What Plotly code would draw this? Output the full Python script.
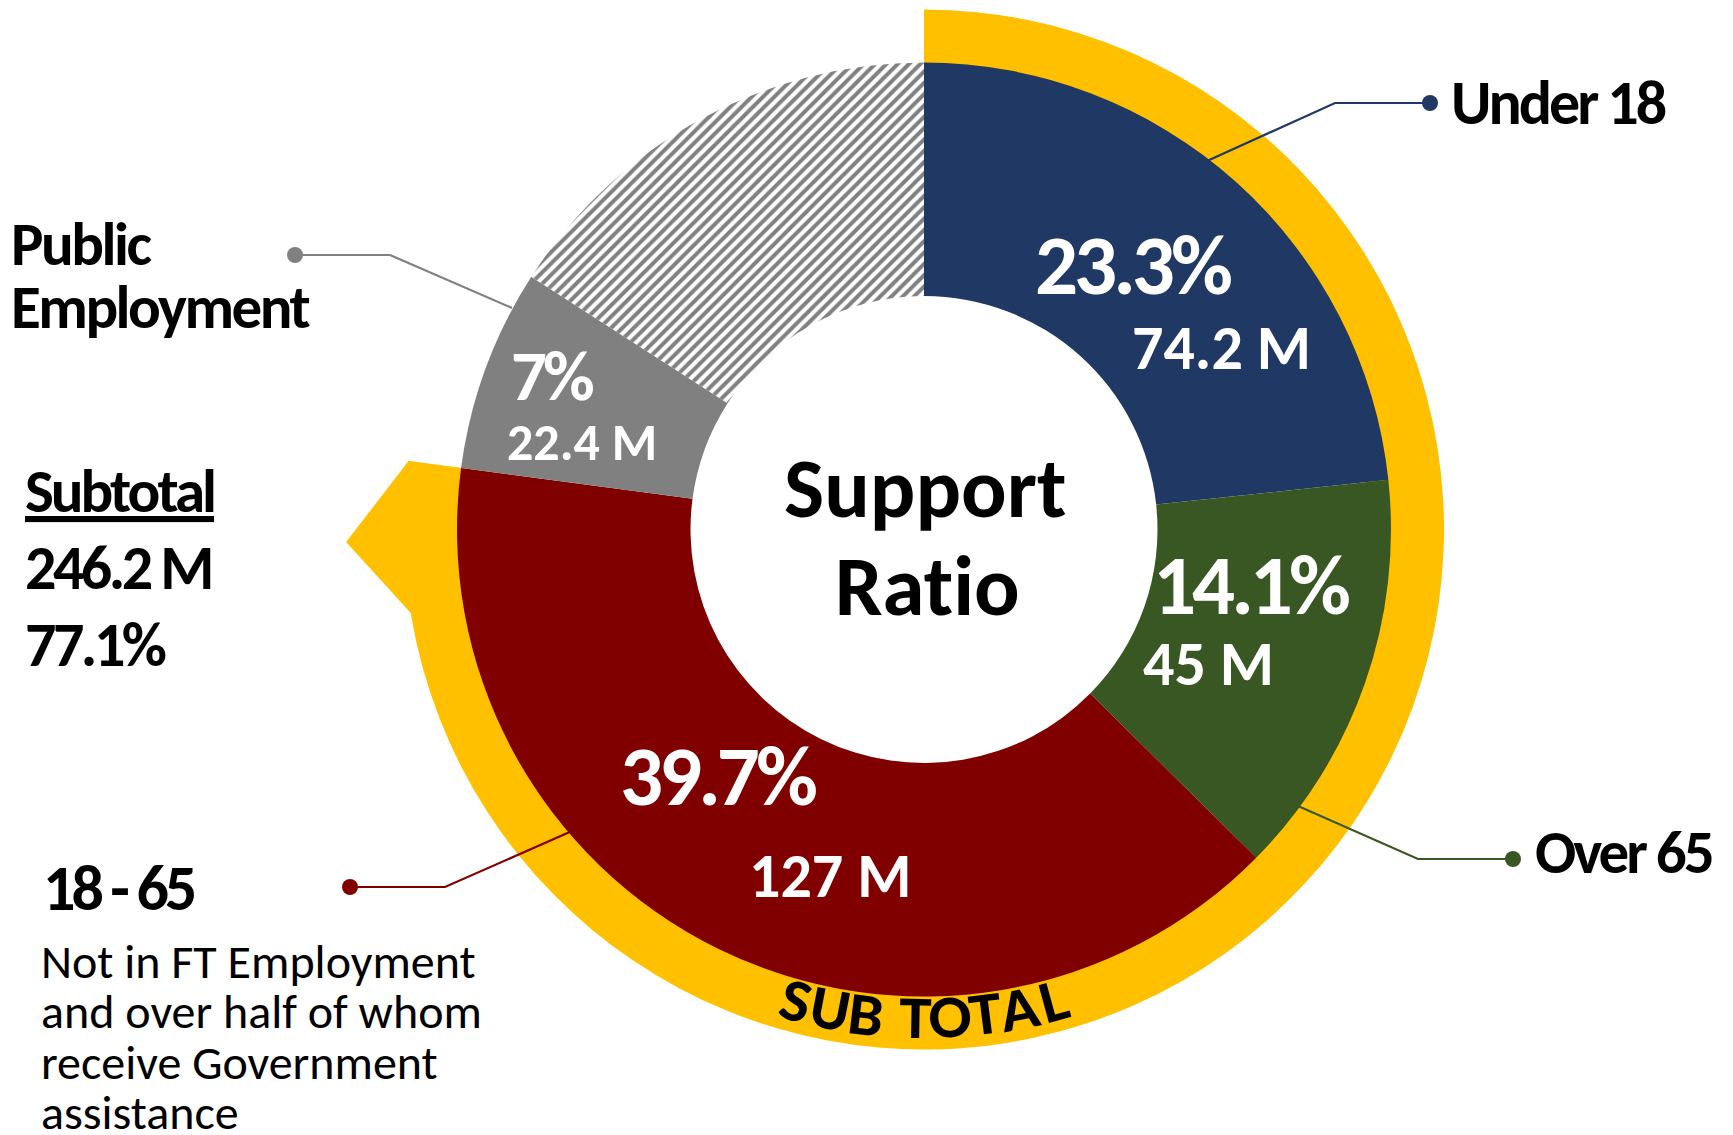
import json
import math
import plotly.graph_objects as go

# ---------------- data ----------------
segments = ["Under 18", "Over 65", "18 - 65", "Public Employment", "Other"]
shares = [23.3, 14.1, 39.7, 7.0, 15.9]          # % of population
share_text = ["23.3%", "14.1%", "39.7%", "7%", ""]
value_text = ["74.2 M", "45 M", "127 M", "22.4 M", ""]
subtotal_share = 77.1                              # Under 18 + Over 65 + 18-65
subtotal_rest = 22.9
subtotal_value_text = "246.2 M"
subtotal_share_text = "77.1%"
center_title = ["Support", "Ratio"]
adult_note = ["Not in FT Employment", "and over half of whom", "receive Government", "assistance"]
ring_label = "SUB TOTAL"

# ---------------- styling / layout ----------------
W, H = 1733, 1135
CX, CY = 924, 529.5          # donut centre (px)
R_PIE, R_RING = 467, 520
NAVY, GREEN, RED, GREY, YELLOW = "#203864", "#385723", "#800000", "#808080", "#FFC000"
colors = [NAVY, GREEN, RED, GREY, "#FFFFFF"]
FONT = "Carlito, Calibri, Lato, sans-serif"


def fx(x):
    return x / W


def fy(y):
    return 1 - y / H


def polar(r, deg):
    a = math.radians(deg)
    return CX + r * math.sin(a), CY - r * math.cos(a)


fig = go.Figure()

# outer yellow "sub total" ring
fig.add_trace(go.Pie(
    values=[subtotal_share, subtotal_rest], labels=["Sub total", ""],
    sort=False, direction="clockwise", rotation=0, hole=0.86,
    marker=dict(colors=[YELLOW, "rgba(0,0,0,0)"], line=dict(width=0)),
    textinfo="none", hoverinfo="skip", showlegend=False,
    domain=dict(x=[fx(CX - R_RING), fx(CX + R_RING)], y=[fy(CY + R_RING), fy(CY - R_RING)]),
))

# main donut
fig.add_trace(go.Pie(
    values=shares, labels=segments,
    sort=False, direction="clockwise", rotation=0, hole=0.5,
    marker=dict(colors=colors, line=dict(width=0),
                pattern=dict(shape=["", "", "", "", "/"], fgcolor=GREY,
                             bgcolor=colors, size=8, solidity=0.5)),
    textinfo="none", hoverinfo="label+value", showlegend=False,
    domain=dict(x=[fx(CX - R_PIE), fx(CX + R_PIE)], y=[fy(CY + R_PIE), fy(CY - R_PIE)]),
))

shapes = []

# arrow head at the end of the yellow ring
end_deg = subtotal_share / 100 * 360
p1 = polar(440, end_deg)
p2 = polar(R_RING, end_deg)
p3 = polar(578, end_deg - 8.8)
p4 = polar(R_RING, end_deg - 16.8)
p5 = polar(440, end_deg - 16.8)
path = "M " + " L ".join(f"{fx(x):.5f},{fy(y):.5f}" for x, y in [p1, p2, p3, p4, p5]) + " Z"
shapes.append(dict(type="path", path=path, xref="paper", yref="paper",
                   fillcolor=YELLOW, line=dict(width=0), layer="below"))

# leader lines with dots
leaders = [
    (NAVY, [(1207, 161), (1335, 103), (1430, 103)]),
    (GREEN, [(1298, 806), (1418, 859), (1513, 859)]),
    (GREY, [(512, 308), (390, 255), (295, 255)]),
    (RED, [(572, 831), (445, 887), (350, 887)]),
]
for col, pts in leaders:
    p = "M " + " L ".join(f"{fx(x):.5f},{fy(y):.5f}" for x, y in pts)
    shapes.append(dict(type="path", path=p, xref="paper", yref="paper", line=dict(color=col, width=2.2)))
    x, y = pts[-1]
    shapes.append(dict(type="circle", xref="paper", yref="paper", x0=fx(x - 8), x1=fx(x + 8),
                       y0=fy(y + 8), y1=fy(y - 8), fillcolor=col, line=dict(width=0)))

ann = []
spacing = {}


def txt(s, x, yc, size, color="black", anchor="center", weight="bold", ls=0, family=FONT, angle=0):
    i = len(ann)
    if ls:
        spacing[str(i)] = ls
    ann.append(dict(text=s, x=fx(x), y=fy(yc), xref="paper", yref="paper", xanchor=anchor, yanchor="middle",
                    align="left" if anchor == "left" else "center", showarrow=False, textangle=angle,
                    font=dict(family=family, size=size, color=color, weight=weight)))


# slice labels
pct_pos = [(1132, 265, 85), (1250, 585, 85), (717, 776, 85), (551, 375, 71)]
val_pos = [(1221, 348, 62), (1208, 664, 62), (830, 876, 62), (582, 442, 52)]
for i in range(4):
    x, y, s = pct_pos[i]
    txt(share_text[i], x, y, s, "white", ls=-4)
    x, y, s = val_pos[i]
    txt(value_text[i], x, y, s, "white")

# centre title
txt(center_title[0], 925, 488, 85)
txt(center_title[1], 927, 586, 85)

# category labels
txt(segments[0], 1449, 103, 62, anchor="left", ls=-3)
txt(segments[1], 1533, 852, 61, anchor="left", ls=-3)
txt("Public", 9, 244, 61, anchor="left", ls=-2.5)
txt("Employment", 9, 307, 61, anchor="left", ls=-2.5)
txt("<u>Subtotal</u>", 23, 491, 61, anchor="left", ls=-3)
txt(subtotal_value_text, 23, 568, 62, anchor="left", ls=-3.5)
txt(subtotal_share_text, 23, 645, 62, anchor="left", ls=-3.5)
txt(segments[2], 41, 888, 64, anchor="left", ls=-4)
for k, line in enumerate(adult_note):
    txt(line, 39, 961 + 50.5 * k, 48, anchor="left", weight="normal")

# curved "SUB TOTAL" text along the yellow ring
em = {"S": .667, "U": .722, "B": .722, " ": .333, "T": .611, "O": .778, "A": .778, "L": .611}
deg_per_em = 5.88
total = sum(em[c] for c in ring_label)
pos = 0
for c in ring_label:
    w = em[c]
    mid = pos + w / 2 - total / 2
    pos += w
    if c == " ":
        continue
    th = mid * deg_per_em          # degrees from straight down, positive to the right
    x, y = polar(488, 180 - th)
    txt(c, x, y, 54, anchor="center", weight=900, family="Lato Black, Lato", angle=-th)

fig.update_layout(
    width=W, height=H, margin=dict(l=0, r=0, t=0, b=0),
    paper_bgcolor="white", plot_bgcolor="white",
    shapes=shapes, annotations=ann, showlegend=False,
)

post = ("document.body.style.margin='0';"
        "var gd=document.getElementById('{plot_id}');var sp=" + json.dumps(spacing) + ";"
        "function ap(){gd.querySelectorAll('g.annotation').forEach(function(g){"
        "var i=g.getAttribute('data-index');"
        "g.querySelectorAll('text').forEach(function(t){t.style.fontVariantLigatures='none';"
        "if(sp[i]!==undefined){t.style.letterSpacing=sp[i]+'px';}});});}"
        "ap();gd.on('plotly_afterplot',ap);")

fig.write_html("out.html", post_script=post, config={"displayModeBar": False})
